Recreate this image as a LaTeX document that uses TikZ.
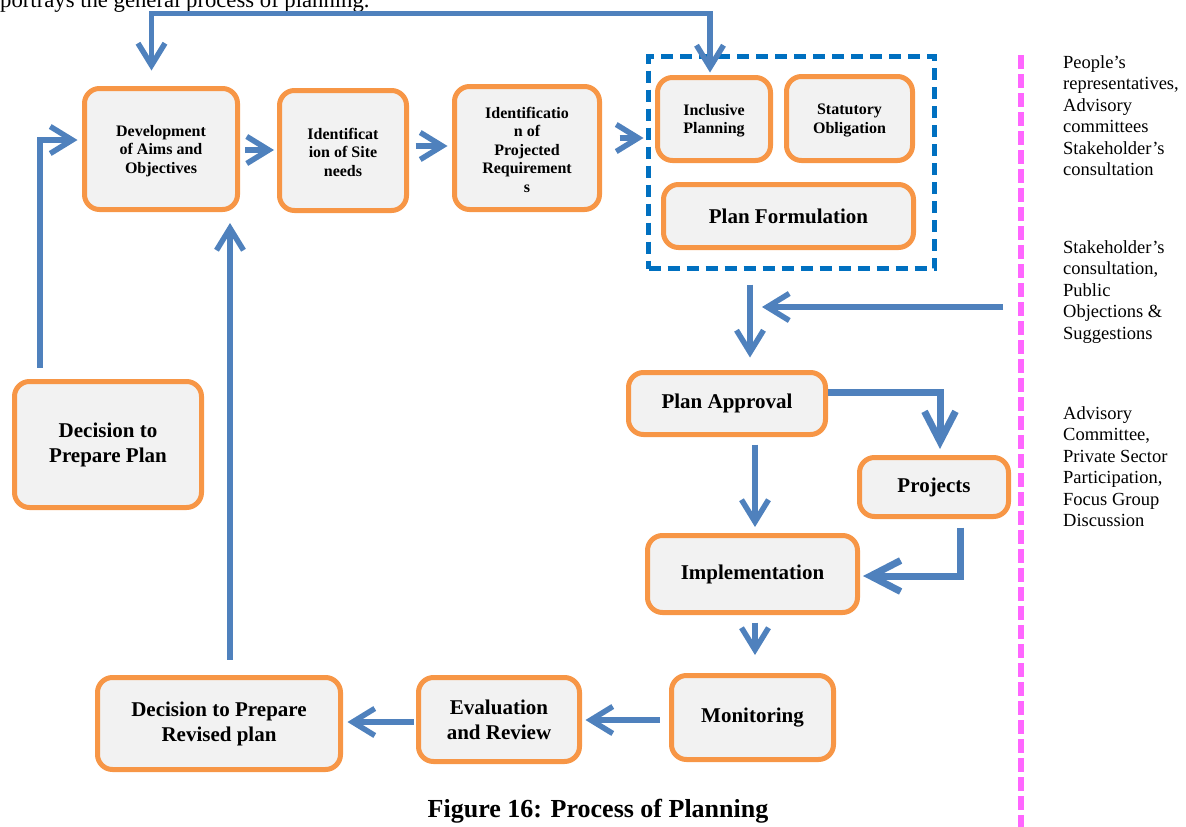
\documentclass[tikz,border=0pt]{standalone}
\usepackage{fontspec}
\setmainfont{Liberation Serif}
\usetikzlibrary{arrows.meta,calc}

\definecolor{boxorange}{RGB}{247,150,70}
\definecolor{boxfill}{RGB}{242,242,242}
\definecolor{flowblue}{RGB}{79,129,189}
\definecolor{groupblue}{RGB}{0,112,192}
\definecolor{notepink}{RGB}{255,102,255}

\tikzset{
  flowtip/.tip={Straight Barb[length=22pt,width=27pt]},
  heavytip/.tip={Straight Barb[length=30pt,width=31pt]},
}

\begin{document}
\begin{tikzpicture}[x=1pt,y=-1pt,
  stage/.style={draw=boxorange, fill=boxfill, line width=5pt, rounded corners=15pt,
    inner sep=0pt, align=center, font=\bfseries\fontsize{21}{25}\selectfont},
  small/.style={stage, font=\bfseries\fontsize{16}{18.5}\selectfont},
  conn/.style={draw=flowblue, line width=5.5pt, -flowtip},
  heavy/.style={draw=flowblue, line width=7pt, -heavytip},
  note/.style={anchor=north west, align=left, inner sep=0pt,
    font=\fontsize{18.5}{21.4}\selectfont},
]
\useasboundingbox (0,0) rectangle (1186,827);

% running text of the page above the figure
\node[anchor=base west, inner sep=0pt, font=\fontsize{22.7}{26}\selectfont] (lead) at (0,7)
  {portrays the general process of planning.};

% planning group
\node[draw=groupblue, line width=5pt, dash pattern=on 12pt off 7pt,
  minimum width=286pt, minimum height=212pt, inner sep=0pt] (group) at (791.5,162.5) {};

% stages
\node[small, minimum width=153pt, minimum height=121pt] (dev)  at (161,149)   {\rule{0pt}{15pt}Development\\of Aims and\\Objectives};
\node[small, minimum width=127pt, minimum height=120pt] (site) at (343,150.5) {\rule{0pt}{15pt}Identificat\\ion of Site\\needs};
\node[small, minimum width=145pt, minimum height=123pt] (proj) at (527,148)   {\rule{0pt}{15pt}Identificatio\\n of\\Projected\\Requirement\\s};
\node[small, minimum width=113pt, minimum height=83pt]  (incl) at (714,119)   {\rule{0pt}{15pt}Inclusive\\Planning};
\node[small, minimum width=126pt, minimum height=84pt]  (stat) at (849.5,118.5) {\rule{0pt}{15pt}Statutory\\Obligation};
\node[stage, minimum width=250pt, minimum height=63pt]  (form) at (788.5,216)  {Plan Formulation};
\node[stage, minimum width=197pt, minimum height=62pt]  (appr) at (727,403.5)  {Plan Approval};
\node[stage, minimum width=149pt, minimum height=59pt]  (projects) at (934,487) {Projects};
\node[stage, minimum width=210pt, minimum height=77pt]  (impl) at (752.5,574)  {Implementation};
\node[stage, minimum width=162pt, minimum height=84pt]  (mon)  at (752.5,717.5) {Monitoring};
\node[stage, minimum width=161pt, minimum height=84pt]  (eval) at (499,719.5)  {Evaluation\\and Review};
\node[stage, minimum width=243pt, minimum height=92pt]  (rev)  at (219,723.5)  {Decision to Prepare\\Revised plan};
\node[stage, minimum width=187pt, minimum height=126pt] (dec)  at (108,444.5)  {Decision to\\Prepare Plan};

% divider and participation notes
\coordinate (divtop) at (1021,55);
\coordinate (divbot) at (1021,830);
\draw[notepink, line width=6pt, dash pattern=on 14pt off 5pt] (divtop) -- (divbot);

\node[note] (n1) at (1063,55.4) {People’s\\representatives,\\Advisory\\committees\\Stakeholder’s\\consultation};
\node[note] (n2) at (1063,240.4) {Stakeholder’s\\consultation,\\Public\\Objections \&\\Suggestions};
\node[note] (n3) at (1063,406.4) {Advisory\\Committee,\\Private Sector\\Participation,\\Focus Group\\Discussion};

% connectors
\coordinate (loop) at (430,13.5);
\draw[draw=flowblue, line width=5.5pt, flowtip-flowtip]
  ($(dev.north)+(-9.5,-15.5)$) |- (loop) -| ($(incl.north)+(-4,-2.5)$);
\draw[conn] ($(dec.north)+(-68,-11.5)$) |- ($(dev.west)+(-4.5,-9)$);
\draw[conn] ($(dev.east)+(5,1)$) -- ($(site.west)+(-3,-0.5)$);
\draw[conn] ($(site.east)+(6.5,-4.5)$) -- ($(proj.west)+(-4.5,-2)$);
\draw[conn] ($(proj.east)+(17.5,-10)$) -- ($(group.west)+(-2.5,-24.5)$);
\draw[conn] ($(group.south)+(-41.5,13.5)$) -- ($(appr.north)+(23,-12.5)$);

\coordinate (inflow) at (1003,307);
\coordinate (merge) at (762,307);
\draw[conn] (inflow) -- (merge);

\draw[heavy] ($(appr.east)+(0,-11.5)$) -| ($(projects.north)+(6,-6)$);
\draw[conn] ($(appr.south)+(28,7.5)$) -- ($(impl.north)+(2.5,-6)$);
\draw[heavy] ($(projects.south)+(26,8.5)$) |- ($(impl.east)+(3,2)$);
\draw[conn] ($(impl.south)+(2.5,7.5)$) -- ($(mon.north)+(2.5,-18)$);
\draw[conn] ($(mon.west)+(-9.5,2.5)$) -- ($(eval.east)+(3.5,0.5)$);
\draw[conn] ($(eval.west)+(-2.5,2.5)$) -- ($(rev.east)+(4.5,-1.5)$);
\draw[conn] ($(rev.north)+(11,-15.5)$) -- ($(dev.south)+(69,11)$);

% caption
\node[anchor=base, inner sep=0pt, font=\bfseries\fontsize{26}{30}\selectfont] (caption) at (598,817)
  {Figure 16: Process of Planning};
\end{tikzpicture}
\end{document}
